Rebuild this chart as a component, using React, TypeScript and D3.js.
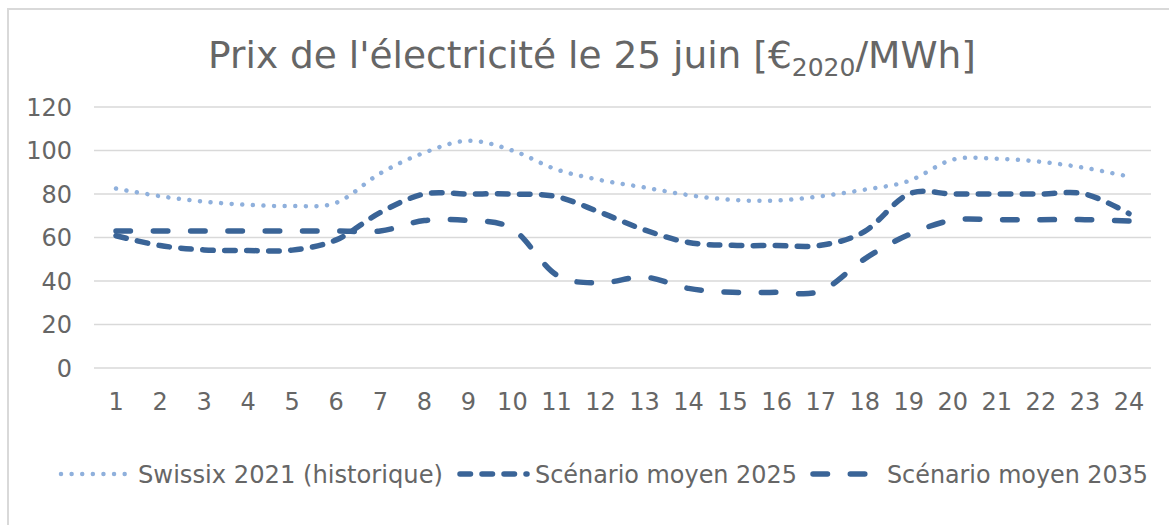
import React from "react";
import * as d3 from "d3";

const hours = d3.range(1, 25);
const yTicks = [0, 20, 40, 60, 80, 100, 120];

const swissix2021 = [
  82.5, 79, 76.5, 75, 74.5, 76, 89.5, 99, 104.5, 100, 91.3, 86.4,
  83, 79.5, 77.3, 77, 79, 82, 86, 95.8, 96.2, 94.8, 92, 88,
];
const scenario2025 = [
  60.8, 56.3, 54.3, 54, 54.2, 58.9, 71.5, 80, 80, 80, 78.8, 71.5,
  63.5, 57.7, 56.4, 56.3, 56.4, 62.8, 80, 80, 80, 80, 80, 71,
];
const scenario2035 = [
  63, 63, 63, 63, 63, 63, 63, 67.8, 67.8, 64, 42.8, 39.2,
  41.8, 36.6, 34.8, 34.8, 35.4, 50.2, 61.3, 68, 68.2, 68.2, 68.2, 67.6,
];

const seriesNames = [
  "Swissix 2021 (historique)",
  "Scénario moyen 2025",
  "Scénario moyen 2035",
];

const light = "#8FB0DC";
const dark = "#3A6497";
const textCol = "#666666";
const font = "'DejaVu Sans', Verdana, sans-serif";

const styles = [
  { color: light, width: 4.5, dash: "0.01 10.6" },
  { color: dark, width: 5.5, dash: "10.5 11.5" },
  { color: dark, width: 5.5, dash: "14.5 22.8" },
];

export default function App() {
  const width = 1169;
  const height = 525;

  const x = d3.scaleBand<number>().domain(hours).range([94, 1151]).padding(0);
  const cx = (h: number) => (x(h) as number) + x.bandwidth() / 2;
  const y = d3.scaleLinear().domain([0, 120]).range([368, 107]);

  const line = d3
    .line<number>()
    .x((_, i) => cx(hours[i]))
    .y((d) => y(d))
    .curve(d3.curveCatmullRom.alpha(0));

  const allSeries = [swissix2021, scenario2025, scenario2035];

  // legend layout (sample start, sample end, text start, text width)
  const legend = [
    { x0: 61, x1: 128, tx: 138, tw: 305 },
    { x0: 460, x1: 527, tx: 535, tw: 262 },
    { x0: 813, x1: 867, tx: 887, tw: 261 },
  ];

  return (
    <svg
      width={width}
      height={height}
      style={{ position: "absolute", left: 0, top: 0, background: "#fff" }}
    >
      <rect x={8} y={9} width={1200} height={560} fill="#fff" stroke="#d9d9d9" strokeWidth={2} />

      <text
        x={592}
        y={68}
        textAnchor="middle"
        fontFamily={font}
        fontSize={37.5}
        fill={textCol}
      >
        Prix de l'électricité le 25 juin [€
        <tspan fontSize={25} dy={8}>2020</tspan>
        <tspan dy={-8}>/MWh]</tspan>
      </text>

      {/* gridlines + y labels */}
      {yTicks.map((t) => (
        <g key={t}>
          <line x1={94} x2={1151} y1={y(t)} y2={y(t)} stroke="#d9d9d9" strokeWidth={1.5} />
          <text
            x={72}
            y={y(t)}
            dy="0.36em"
            textAnchor="end"
            fontFamily={font}
            fontSize={24}
            fill={textCol}
          >
            {t}
          </text>
        </g>
      ))}

      {/* x labels */}
      {hours.map((h) => (
        <text
          key={h}
          x={cx(h)}
          y={410}
          textAnchor="middle"
          fontFamily={font}
          fontSize={24}
          fill={textCol}
        >
          {h}
        </text>
      ))}

      {/* series */}
      {allSeries.map((s, i) => (
        <path
          key={i}
          d={line(s) || ""}
          fill="none"
          stroke={styles[i].color}
          strokeWidth={styles[i].width}
          strokeDasharray={styles[i].dash}
          strokeLinecap="round"
        />
      ))}

      {/* legend */}
      {legend.map((l, i) => (
        <g key={i}>
          <line
            x1={l.x0}
            x2={l.x1}
            y1={474}
            y2={474}
            stroke={styles[i].color}
            strokeWidth={styles[i].width}
            strokeDasharray={styles[i].dash}
            strokeLinecap="round"
          />
          <text
            x={l.tx}
            y={474}
            dy="0.36em"
            fontFamily={font}
            fontSize={24}
            fill={textCol}
            textLength={l.tw}
            lengthAdjust="spacingAndGlyphs"
          >
            {seriesNames[i]}
          </text>
        </g>
      ))}
    </svg>
  );
}
